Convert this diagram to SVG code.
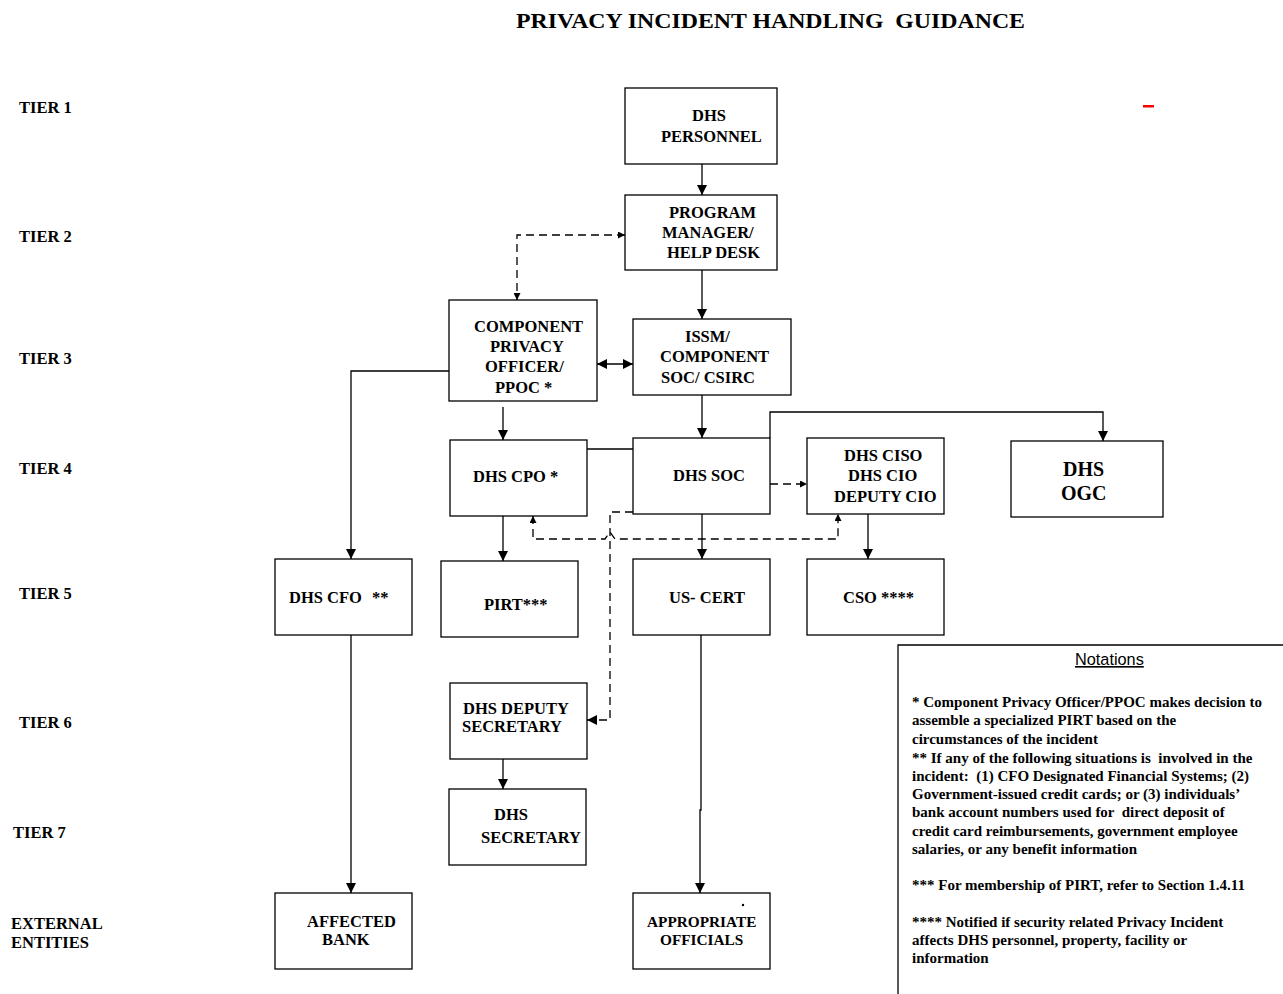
<svg xmlns="http://www.w3.org/2000/svg" width="1283" height="994" viewBox="0 0 1283 994">
<style>
.box{fill:#fff;stroke:#000;stroke-width:1.3}
.t{font-family:"Liberation Serif","Times New Roman",serif;font-weight:bold;font-size:16.5px;fill:#000}
.tier{font-family:"Liberation Serif","Times New Roman",serif;font-weight:bold;font-size:16.5px;fill:#000}
.note{font-family:"Liberation Serif","Times New Roman",serif;font-weight:bold;font-size:15px;fill:#000;white-space:pre}
.ln{fill:none;stroke:#000;stroke-width:1.3}
.ds{fill:none;stroke:#000;stroke-width:1.3;stroke-dasharray:8,5}
</style>
<defs>
<marker id="ah" viewBox="0 0 10 10" refX="10" refY="5" markerWidth="10" markerHeight="10" markerUnits="userSpaceOnUse" orient="auto-start-reverse">
<path d="M0,0 L10,5 L0,10 z" fill="#000"/>
</marker>
<marker id="ahs" viewBox="0 0 10 10" refX="10" refY="5" markerWidth="7" markerHeight="7" markerUnits="userSpaceOnUse" orient="auto-start-reverse">
<path d="M0,0 L10,5 L0,10 z" fill="#000"/>
</marker>
</defs>
<rect width="1283" height="994" fill="#fff"/>
<text x="516" y="28" font-family="Liberation Serif,serif" font-weight="bold" font-size="21" style="white-space:pre" textLength="509" lengthAdjust="spacingAndGlyphs">PRIVACY INCIDENT HANDLING  GUIDANCE</text>
<rect x="1143" y="105" width="11" height="2.5" fill="#ff0000"/>
<g id="tiers">
<text class="tier" x="19" y="113">TIER 1</text>
<text class="tier" x="19" y="242">TIER 2</text>
<text class="tier" x="19" y="364">TIER 3</text>
<text class="tier" x="19" y="474">TIER 4</text>
<text class="tier" x="19" y="599">TIER 5</text>
<text class="tier" x="19" y="728">TIER 6</text>
<text class="tier" x="13" y="838">TIER 7</text>
<text class="tier" x="11" y="929">EXTERNAL</text>
<text class="tier" x="11" y="948">ENTITIES</text>
</g>
<g id="connectors">
<line class="ln" x1="702" y1="164" x2="702" y2="195" marker-end="url(#ah)"/>
<line class="ln" x1="702" y1="270" x2="702" y2="319" marker-end="url(#ah)"/>
<polyline class="ds" points="625,235 517,235 517,300" marker-start="url(#ahs)" marker-end="url(#ahs)"/>
<line class="ln" x1="597" y1="364" x2="633" y2="364" marker-start="url(#ah)" marker-end="url(#ah)"/>
<line class="ln" x1="503" y1="407" x2="503" y2="440" marker-end="url(#ah)"/>
<polyline class="ln" points="449,371 351,371 351,559" marker-end="url(#ah)"/>
<line class="ln" x1="702" y1="395" x2="702" y2="438" marker-end="url(#ah)"/>
<line class="ln" x1="587" y1="449" x2="633" y2="449"/>
<polyline class="ln" points="770,438 770,412 1103,412 1103,441" marker-end="url(#ah)"/>
<line class="ds" x1="770" y1="484" x2="807" y2="484" marker-end="url(#ahs)"/>
<line class="ln" x1="702" y1="514" x2="702" y2="559" marker-end="url(#ah)"/>
<line class="ln" x1="868" y1="514" x2="868" y2="559" marker-end="url(#ah)"/>
<line class="ln" x1="503" y1="516" x2="503" y2="561" marker-end="url(#ah)"/>
<polyline class="ds" points="633,512 610,512 610,720 587,720" marker-end="url(#ah)"/>
<path class="ds" d="M533,516 L533,539 L605,539 L610,532 L615,539 L838,539 L838,514" marker-start="url(#ahs)" marker-end="url(#ahs)"/>
<line class="ln" x1="503" y1="757" x2="503" y2="789" marker-end="url(#ah)"/>
<line class="ln" x1="351" y1="635" x2="351" y2="893" marker-end="url(#ah)"/>
<polyline class="ln" points="701,635 701,810 700,810 700,893" marker-end="url(#ah)"/>
</g>
<g id="n-personnel"><rect class="box" x="625" y="88" width="152" height="76"/>
<text class="t" x="692" y="121">DHS</text><text class="t" x="661" y="142">PERSONNEL</text></g>
<g id="n-pm"><rect class="box" x="625" y="195" width="152" height="75"/>
<text class="t" x="669" y="218">PROGRAM</text><text class="t" x="662" y="238">MANAGER/</text><text class="t" x="667" y="258">HELP DESK</text></g>
<g id="n-cppo"><rect class="box" x="449" y="300" width="148" height="101"/>
<text class="t" x="474" y="332">COMPONENT</text><text class="t" x="490" y="352">PRIVACY</text><text class="t" x="485" y="372">OFFICER/</text><text class="t" x="495" y="393">PPOC *</text></g>
<g id="n-issm"><rect class="box" x="633" y="319" width="158" height="76"/>
<text class="t" x="685" y="342">ISSM/</text><text class="t" x="660" y="362">COMPONENT</text><text class="t" x="661" y="383">SOC/ CSIRC</text></g>
<g id="n-cpo"><rect class="box" x="450" y="440" width="137" height="76"/>
<text class="t" x="473" y="482">DHS CPO *</text></g>
<g id="n-soc"><rect class="box" x="633" y="438" width="137" height="76"/>
<text class="t" x="673" y="481">DHS SOC</text></g>
<g id="n-ciso"><rect class="box" x="807" y="438" width="137" height="76"/>
<text class="t" x="844" y="461">DHS CISO</text><text class="t" x="848" y="481">DHS CIO</text><text class="t" x="834" y="502">DEPUTY CIO</text></g>
<g id="n-ogc"><rect class="box" x="1011" y="441" width="152" height="76"/>
<text class="t" x="1063" y="476" style="font-size:20px">DHS</text><text class="t" x="1061" y="500" style="font-size:20px">OGC</text></g>
<g id="n-cfo"><rect class="box" x="275" y="559" width="137" height="76"/>
<text class="t" x="289" y="603">DHS CFO</text><text class="t" x="372" y="603">**</text></g>
<g id="n-pirt"><rect class="box" x="441" y="561" width="137" height="76"/>
<text class="t" x="484" y="610">PIRT***</text></g>
<g id="n-uscert"><rect class="box" x="633" y="559" width="137" height="76"/>
<text class="t" x="669" y="603">US- CERT</text></g>
<g id="n-cso"><rect class="box" x="807" y="559" width="137" height="76"/>
<text class="t" x="843" y="603">CSO ****</text></g>
<g id="n-depsec"><rect class="box" x="450" y="683" width="137" height="76"/>
<text class="t" x="463" y="714">DHS DEPUTY</text><text class="t" x="462" y="732">SECRETARY</text></g>
<g id="n-sec"><rect class="box" x="449" y="789" width="137" height="76"/>
<text class="t" x="494" y="820">DHS</text><text class="t" x="481" y="843">SECRETARY</text></g>
<g id="n-bank"><rect class="box" x="275" y="893" width="137" height="76"/>
<text class="t" x="307" y="927">AFFECTED</text><text class="t" x="322" y="945">BANK</text></g>
<g id="n-officials"><rect class="box" x="633" y="893" width="137" height="76"/>
<circle cx="743" cy="905" r="1.2" fill="#000"/>
<text class="t" x="647" y="927" style="font-size:15.3px">APPROPRIATE</text><text class="t" x="660" y="945" style="font-size:15.3px">OFFICIALS</text></g>
<g id="notations">
<polyline class="ln" points="898,994 898,645 1283,645"/>
<text x="1075" y="665" font-family="Liberation Sans,Arial,sans-serif" font-size="16.3" text-decoration="underline">Notations</text>
<text class="note" x="912" y="707">* Component Privacy Officer/PPOC makes decision to</text>
<text class="note" x="912" y="725">assemble a specialized PIRT based on the</text>
<text class="note" x="912" y="744">circumstances of the incident</text>
<text class="note" x="912" y="763">** If any of the following situations is  involved in the</text>
<text class="note" x="912" y="781">incident:  (1) CFO Designated Financial Systems; (2)</text>
<text class="note" x="912" y="799">Government-issued credit cards; or (3) individuals’</text>
<text class="note" x="912" y="817">bank account numbers used for  direct deposit of</text>
<text class="note" x="912" y="836">credit card reimbursements, government employee</text>
<text class="note" x="912" y="854">salaries, or any benefit information</text>
<text class="note" x="912" y="890">*** For membership of PIRT, refer to Section 1.4.11</text>
<text class="note" x="912" y="927">**** Notified if security related Privacy Incident</text>
<text class="note" x="912" y="945">affects DHS personnel, property, facility or</text>
<text class="note" x="912" y="963">information</text>
</g>
</svg>
